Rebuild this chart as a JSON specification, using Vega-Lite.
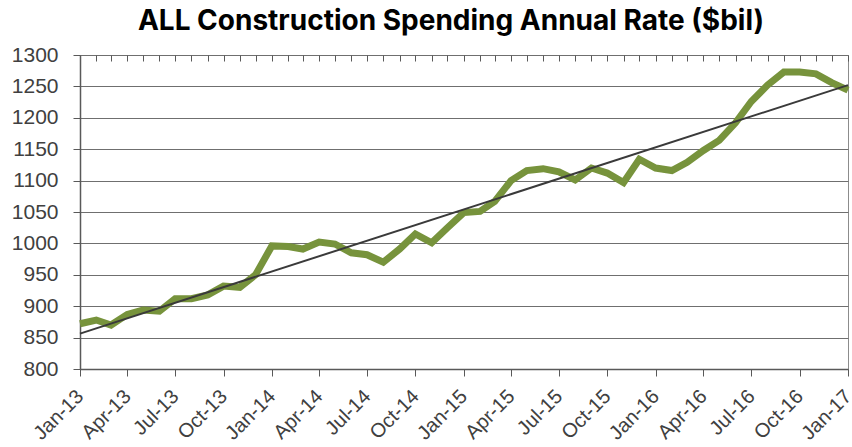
{
  "$schema": "https://vega.github.io/schema/vega-lite/v6.json",
  "autosize": "none",
  "width": 768,
  "height": 314,
  "padding": {"left": 80, "top": 55, "right": 4, "bottom": 78},
  "background": "white",
  "config": {
    "view": {"stroke": "#8c8c8c", "strokeWidth": 1},
    "font": "Liberation Sans"
  },
  "title": {
    "text": "ALL Construction Spending Annual Rate ($bil)",
    "font": "Inter",
    "fontWeight": "bold",
    "fontSize": 28,
    "color": "#000000",
    "anchor": "middle",
    "baseline": "alphabetic",
    "dx": -13,
    "dy": 37,
    "offset": 23
  },
  "data": {
    "values": [
      {"date": "2013-01-01", "value": 872},
      {"date": "2013-02-01", "value": 878},
      {"date": "2013-03-01", "value": 870},
      {"date": "2013-04-01", "value": 887},
      {"date": "2013-05-01", "value": 894},
      {"date": "2013-06-01", "value": 892},
      {"date": "2013-07-01", "value": 912},
      {"date": "2013-08-01", "value": 912},
      {"date": "2013-09-01", "value": 918},
      {"date": "2013-10-01", "value": 932},
      {"date": "2013-11-01", "value": 930},
      {"date": "2013-12-01", "value": 950},
      {"date": "2014-01-01", "value": 996},
      {"date": "2014-02-01", "value": 995},
      {"date": "2014-03-01", "value": 991},
      {"date": "2014-04-01", "value": 1002},
      {"date": "2014-05-01", "value": 999},
      {"date": "2014-06-01", "value": 985},
      {"date": "2014-07-01", "value": 982},
      {"date": "2014-08-01", "value": 970},
      {"date": "2014-09-01", "value": 991},
      {"date": "2014-10-01", "value": 1015},
      {"date": "2014-11-01", "value": 1001},
      {"date": "2014-12-01", "value": 1025},
      {"date": "2015-01-01", "value": 1049},
      {"date": "2015-02-01", "value": 1051},
      {"date": "2015-03-01", "value": 1067},
      {"date": "2015-04-01", "value": 1100},
      {"date": "2015-05-01", "value": 1116},
      {"date": "2015-06-01", "value": 1119},
      {"date": "2015-07-01", "value": 1114},
      {"date": "2015-08-01", "value": 1101},
      {"date": "2015-09-01", "value": 1120},
      {"date": "2015-10-01", "value": 1112},
      {"date": "2015-11-01", "value": 1097},
      {"date": "2015-12-01", "value": 1134},
      {"date": "2016-01-01", "value": 1120},
      {"date": "2016-02-01", "value": 1116},
      {"date": "2016-03-01", "value": 1129},
      {"date": "2016-04-01", "value": 1148},
      {"date": "2016-05-01", "value": 1164},
      {"date": "2016-06-01", "value": 1192},
      {"date": "2016-07-01", "value": 1226},
      {"date": "2016-08-01", "value": 1252},
      {"date": "2016-09-01", "value": 1273},
      {"date": "2016-10-01", "value": 1273},
      {"date": "2016-11-01", "value": 1270},
      {"date": "2016-12-01", "value": 1256},
      {"date": "2017-01-01", "value": 1244}
    ]
  },
  "resolve": {"scale": {"x": "shared", "y": "shared"}, "axis": {"x": "independent", "y": "independent"}},
  "layer": [
    {
      "mark": {"type": "line", "color": "#77933C", "strokeWidth": 7, "clip": false},
      "encoding": {
        "x": {
          "field": "date",
          "type": "temporal",
          "scale": {"type": "utc", "domain": [{"year": 2013, "month": 1, "date": 1, "utc": true}, {"year": 2017, "month": 1, "date": 1, "utc": true}], "nice": false},
          "axis": {
            "title": null,
            "tickCount": {"interval": "month", "step": 3},
            "labelExpr": "utcFormat(datum.value, '%b-%y')",
            "labelAngle": -45,
            "labelAlign": "right",
            "labelBaseline": "middle",
            "labelPadding": 17,
            "labelFont": "Liberation Sans",
            "labelFontSize": 20,
            "labelColor": "#404040",
            "labelOverlap": false,
            "labelBound": false,
            "labelFlush": false,
            "tickSize": 7,
            "tickColor": "#595959",
            "tickWidth": 1,
            "domainColor": "#595959",
            "domainWidth": 1.5,
            "grid": false
          }
        },
        "y": {
          "field": "value",
          "type": "quantitative",
          "scale": {"domain": [800, 1300], "nice": false, "zero": false},
          "axis": {
            "title": null,
            "format": "d",
            "values": [800, 850, 900, 950, 1000, 1050, 1100, 1150, 1200, 1250, 1300],
            "labelFont": "Liberation Sans",
            "labelFontSize": 21,
            "labelColor": "#404040",
            "labelPadding": 15,
            "tickSize": 7,
            "tickColor": "#595959",
            "domainColor": "#595959",
            "domainWidth": 1.5,
            "grid": true,
            "gridColor": "#6f6f6f",
            "gridWidth": 1
          }
        }
      }
    },
    {
      "transform": [{"regression": "value", "on": "date"}],
      "mark": {"type": "line", "color": "#3a3a3a", "strokeWidth": 2},
      "encoding": {
        "x": {
          "field": "date",
          "type": "temporal",
          "axis": {
            "title": null,
            "tickCount": {"interval": "month", "step": 1},
            "labels": false,
            "domain": false,
            "grid": false,
            "tickSize": -6,
            "tickColor": "#595959",
            "tickWidth": 1
          }
        },
        "y": {
          "field": "value",
          "type": "quantitative",
          "axis": null
        }
      }
    }
  ]
}
